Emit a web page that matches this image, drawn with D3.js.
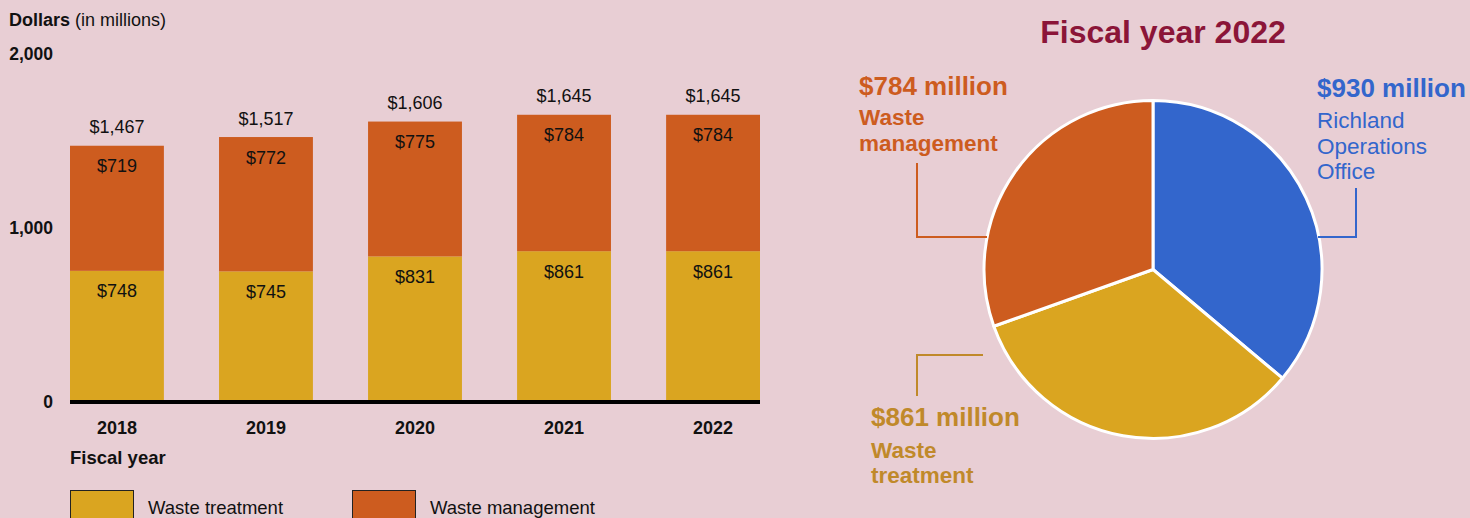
<!DOCTYPE html>
<html><head><meta charset="utf-8">
<script src="https://cdn.jsdelivr.net/npm/d3@7"></script>
<style>
html,body{margin:0;padding:0;background:#E8CED4;}
svg{display:block;font-family:"Liberation Sans",Arial,sans-serif;}
</style></head>
<body><svg id="c" width="1470" height="518"></svg>
<script>
const years = ["2018","2019","2020","2021","2022"];
const wasteTreatment = [748, 745, 831, 861, 861];
const wasteManagement = [719, 772, 775, 784, 784];
const totals = [1467, 1517, 1606, 1645, 1645];
const yTicks = [0, 1000, 2000];
const pieLabels = ["Richland Operations Office", "Waste treatment", "Waste management"];
const pieValues = [930, 861, 784];

const C = {bg:"#E8CED4", orange:"#CD5C1F", gold:"#DAA520", blue:"#3366CC", title:"#8B1538", goldText:"#C0892A"};
const svg = d3.select("#c");
const FF = "Liberation Sans, Arial, sans-serif";

// ---- Bar chart ----
const x = d3.scaleBand().domain(years).range([70, 760]).paddingInner(0.37).paddingOuter(0);
const y = d3.scaleLinear().domain([0, 2000]).range([401, 53]);

const rows = years.map((yr,i)=>({year:yr, wt:wasteTreatment[i], wm:wasteManagement[i], total:totals[i]}));
const stack = d3.stack().keys(["wt","wm"])(rows);
const colors = {wt:C.gold, wm:C.orange};

stack.forEach(layer=>{
  svg.append("g").selectAll("rect").data(layer).join("rect")
    .attr("x", d=>x(d.data.year)).attr("width", x.bandwidth())
    .attr("y", d=>y(d[1])).attr("height", d=>y(d[0])-y(d[1]))
    .attr("fill", colors[layer.key]);
  svg.append("g").selectAll("text").data(layer).join("text")
    .attr("x", d=>x(d.data.year)+x.bandwidth()/2)
    .attr("y", d=>y(d[1])+26.5)
    .attr("text-anchor","middle").attr("font-size",18).attr("fill","#111")
    .text(d=>"$"+d3.format(",")(d.data[layer.key]));
});
svg.append("g").selectAll("text").data(rows).join("text")
  .attr("x", d=>x(d.year)+x.bandwidth()/2).attr("y", d=>y(d.total)-12.5)
  .attr("text-anchor","middle").attr("font-size",18).attr("fill","#111")
  .text(d=>"$"+d3.format(",")(d.total));

// baseline
svg.append("line").attr("x1",70).attr("x2",760).attr("y1",y(0)+1).attr("y2",y(0)+1)
  .attr("stroke","#000").attr("stroke-width",4);

// y axis labels
const yAxis = d3.axisLeft(y).tickValues(yTicks).tickSize(0).tickFormat(d3.format(","));
const ya = svg.append("g").attr("transform","translate(53,0)").call(yAxis);
ya.select(".domain").remove();
ya.selectAll("text").attr("font-size",17.5).attr("font-weight","bold").attr("fill","#111")
  .attr("font-family",FF).attr("x",0).attr("dy","0.35em");

// x axis labels
const xAxis = d3.axisBottom(x).tickSize(0);
const xa = svg.append("g").attr("transform","translate(0,421)").call(xAxis);
xa.select(".domain").remove();
xa.selectAll("text").attr("font-size",18).attr("font-weight","bold").attr("fill","#111")
  .attr("font-family",FF).attr("dy","0.71em").attr("y",0);

// axis titles
const t1 = svg.append("text").attr("x",9).attr("y",26).attr("font-size",18).attr("fill","#111");
t1.append("tspan").attr("font-weight","bold").text("Dollars");
t1.append("tspan").text(" (in millions)");
svg.append("text").attr("x",70).attr("y",464).attr("font-size",18.5).attr("font-weight","bold").attr("fill","#111").text("Fiscal year");

// legend
const legend = [{k:"Waste treatment",c:C.gold,x:70},{k:"Waste management",c:C.orange,x:352}];
legend.forEach(l=>{
  svg.append("rect").attr("x",l.x+0.5).attr("y",490.5).attr("width",63).attr("height",40)
    .attr("fill",l.c).attr("stroke","#222").attr("stroke-width",1);
  svg.append("text").attr("x",l.x+78).attr("y",514).attr("font-size",18.5).attr("fill","#111").text(l.k);
});

// ---- Pie chart ----
const cx = 1153, cy = 269.5, r = 169;
const pie = d3.pie().sort(null).value(d=>d)(pieValues);
const arc = d3.arc().innerRadius(0).outerRadius(r);
const pieColors = [C.blue, C.gold, C.orange];
const pg = svg.append("g").attr("transform",`translate(${cx},${cy})`);
pg.selectAll("path").data(pie).join("path")
  .attr("d", arc).attr("fill",(d,i)=>pieColors[i])
  .attr("stroke","#fff").attr("stroke-width",3).attr("stroke-linejoin","round");

svg.append("text").attr("x",1163).attr("y",43).attr("text-anchor","middle")
  .attr("font-size",32).attr("font-weight","bold").attr("fill",C.title).text("Fiscal year 2022");

// labels
function label(x0, y0, valText, lines, color, boldLines, first, gap){
  svg.append("text").attr("x",x0).attr("y",y0).attr("font-size",26).attr("font-weight","bold")
    .attr("fill",color).text(valText);
  lines.forEach((ln,i)=>{
    svg.append("text").attr("x",x0).attr("y",y0+first+i*gap).attr("font-size",22.5)
      .attr("font-weight",boldLines?"bold":"normal").attr("fill",color).text(ln);
  });
}
label(859, 95, "$"+pieValues[2]+" million", ["Waste","management"], C.orange, true, 30, 26);
label(1317, 97, "$"+pieValues[0]+" million", ["Richland","Operations","Office"], C.blue, false, 31, 25.5);
label(871, 426, "$"+pieValues[1]+" million", ["Waste","treatment"], C.goldText, true, 32, 24.5);

// leaders
function leader(pts, color){
  svg.append("path").attr("d", d3.line()(pts)).attr("fill","none").attr("stroke",color).attr("stroke-width",2);
}
leader([[917,163],[917,237],[987,237]], C.orange);
leader([[1356,188],[1356,237],[1318,237]], C.blue);
leader([[917,396],[917,355],[983,355]], C.goldText);
</script></body></html>
